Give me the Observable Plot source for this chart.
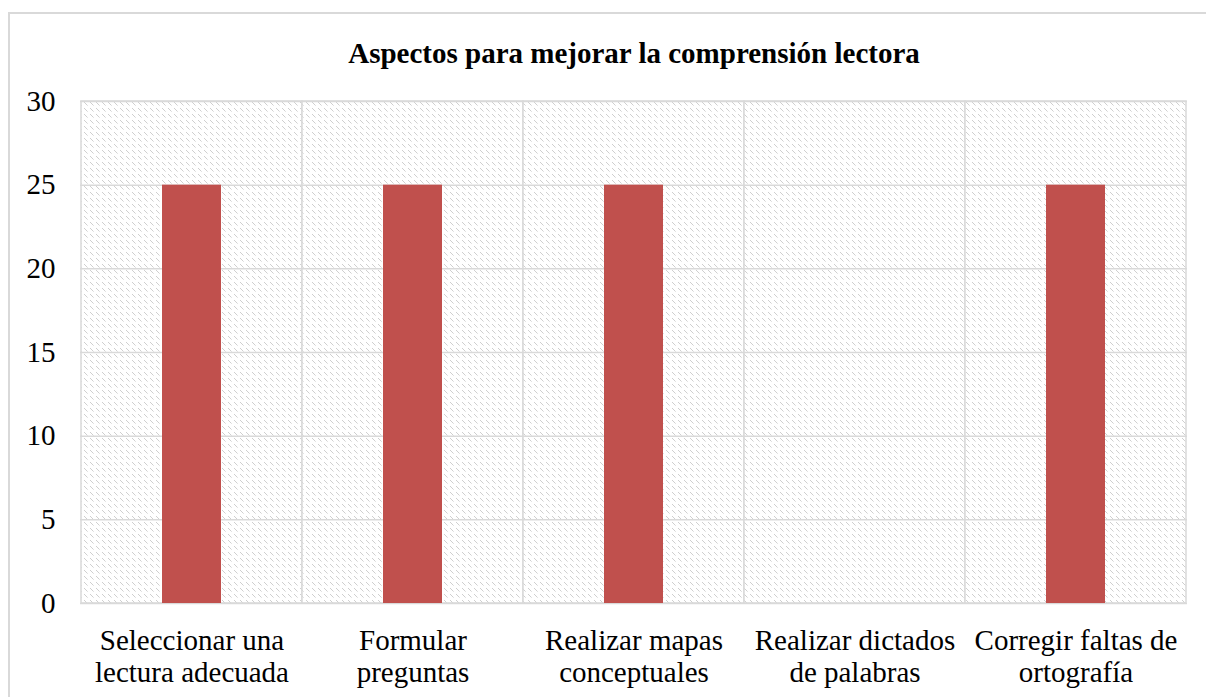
<!DOCTYPE html>
<html>
<head>
<meta charset="utf-8">
<script src="https://cdn.jsdelivr.net/npm/d3@7"></script>
<script src="https://cdn.jsdelivr.net/npm/@observablehq/plot@0.6"></script>
<style>
  html, body { margin: 0; padding: 0; background: #fff; overflow: hidden; font-family: "Liberation Serif", serif; }
  #wrap { position: relative; width: 1206px; height: 697px; }
  #border { position: absolute; left: 8px; top: 12px; width: 1220px; height: 720px; border: 2px solid #d9d9d9; box-sizing: border-box; }
  #chart { position: absolute; left: 0; top: 0; }
</style>
</head>
<body>
<div id="wrap"><div id="border"></div><div id="chart"></div></div>
<script>
const title = "Aspectos para mejorar la comprensión lectora";
const categories = [
  "Seleccionar una lectura adecuada",
  "Formular preguntas",
  "Realizar mapas conceptuales",
  "Realizar dictados de palabras",
  "Corregir faltas de ortografía"
];
const tickLabels = [
  "Seleccionar una\nlectura adecuada",
  "Formular\npreguntas",
  "Realizar mapas\nconceptuales",
  "Realizar dictados\nde palabras",
  "Corregir faltas de\nortografía"
];
const values = [25, 25, 25, 0, 25];
const yTicks = [0, 5, 10, 15, 20, 25, 30];

const data = categories.map((c, i) => ({category: c, value: values[i]}));
const labelOf = new Map(categories.map((c, i) => [c, tickLabels[i]]));

const grid = "#d9d9d9";
const serif = "Liberation Serif, Times New Roman, serif";

const chart = Plot.plot({
  width: 1206,
  height: 697,
  marginLeft: 80,
  marginRight: 19,
  marginTop: 101,
  marginBottom: 94,
  style: {fontFamily: serif, fontSize: "29px", color: "#000", background: "transparent", overflow: "visible"},
  x: {domain: categories, padding: 0, label: null},
  y: {domain: [0, 30], label: null},
  marks: [
    Plot.cell(categories, {x: d => d, fill: "url(#hatch)", stroke: grid, strokeWidth: 1.5}),
    Plot.ruleY(yTicks, {y: d => d, stroke: grid, strokeWidth: 1.5}),
    Plot.barY(data, {x: "category", y: "value", fill: "#C0504D", insetLeft: 81, insetRight: 81}),
    Plot.axisY({ticks: yTicks, tickSize: 0, tickPadding: 25, fontSize: 29, fontFamily: serif, fill: "#000"}),
    Plot.axisX({tickSize: 0, tickPadding: 23, fontSize: 29, fontFamily: serif, fill: "#000", lineHeight: 1.12, tickFormat: d => labelOf.get(d)}),
    Plot.text([title], {text: d => d, frameAnchor: "top", dy: -59, fontWeight: "bold", fontSize: 29, fontFamily: serif, fill: "#000"})
  ]
});

// hatch pattern definition
const svgNS = "http://www.w3.org/2000/svg";
const defs = document.createElementNS(svgNS, "defs");
defs.innerHTML = `
  <pattern id="hatch" patternUnits="userSpaceOnUse" width="6" height="6">
    <rect width="6" height="6" fill="#ffffff"/>
    <rect x="0" y="0" width="1" height="1" fill="#cfcfcf"/>
    <rect x="1" y="1" width="1" height="1" fill="#cfcfcf"/>
    <rect x="2" y="2" width="1" height="1" fill="#cfcfcf"/>
    <rect x="3" y="3" width="1" height="1" fill="#e3e3e3"/>
  </pattern>`;
chart.insertBefore(defs, chart.firstChild);
chart.querySelectorAll("text").forEach(t => t.style.fontFamily = "'Liberation Serif', serif");

document.getElementById("chart").appendChild(chart);
</script>
</body>
</html>
